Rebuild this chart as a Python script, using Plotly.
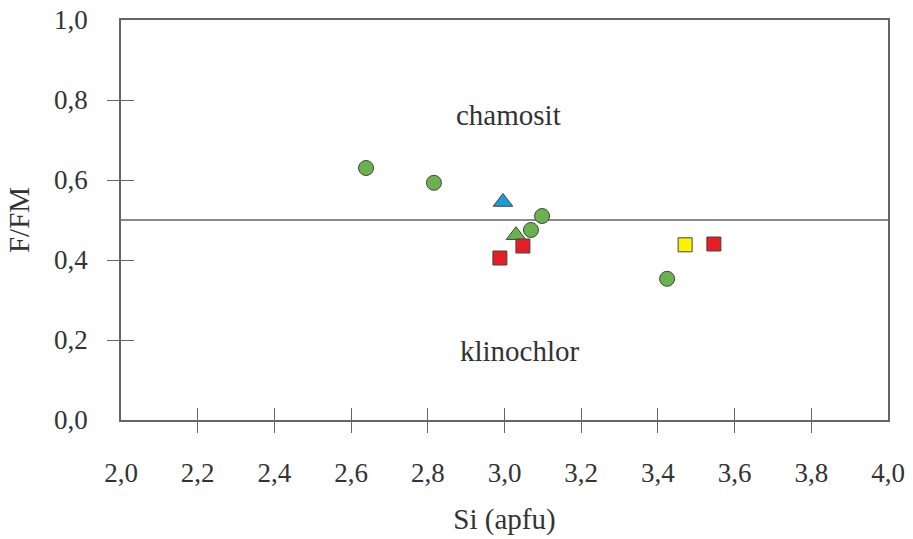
import plotly.graph_objects as go

# --- data ---
circle_x = [2.639, 2.816, 3.098, 3.069, 3.424]
circle_y = [0.630, 0.593, 0.510, 0.475, 0.353]
blue_tri_x = [2.996]
blue_tri_y = [0.545]
green_tri_x = [3.030]
green_tri_y = [0.462]
red_sq_x = [2.988, 3.048, 3.546]
red_sq_y = [0.405, 0.435, 0.440]
yellow_sq_x = [3.471]
yellow_sq_y = [0.438]

x_ticks = [2.0, 2.2, 2.4, 2.6, 2.8, 3.0, 3.2, 3.4, 3.6, 3.8, 4.0]
x_labels = ["2,0", "2,2", "2,4", "2,6", "2,8", "3,0", "3,2", "3,4", "3,6", "3,8", "4,0"]
y_ticks = [0.0, 0.2, 0.4, 0.6, 0.8, 1.0]
y_labels = ["0,0", "0,2", "0,4", "0,6", "0,8", "1,0"]
x_inner = x_ticks[1:-1]
y_inner = y_ticks[1:-1]

divider_y = 0.5
region_labels = [("chamosit", 3.01, 0.762), ("klinochlor", 3.04, 0.172)]

FONT = "Liberation Serif"
TXT = "#333333"
AX = "#666666"
EDGE = "#444444"

fig = go.Figure()

def add(x, y, symbol, color, size):
    fig.add_trace(go.Scatter(x=x, y=y, mode="markers",
                             marker=dict(symbol=symbol, color=color, size=size,
                                         line=dict(color=EDGE, width=1)),
                             showlegend=False))

add(circle_x, circle_y, "circle", "#6ab24e", 15)
add(blue_tri_x, blue_tri_y, "triangle-up", "#1b9bd7", 17)
add(green_tri_x, green_tri_y, "triangle-up", "#6ab24e", 17)
add(red_sq_x, red_sq_y, "square", "#e31e25", 14)
add(yellow_sq_x, yellow_sq_y, "square", "#fff200", 14)

fig.add_shape(type="line", xref="x domain", yref="y", x0=0, x1=1,
              y0=divider_y, y1=divider_y, line=dict(color="#8a8a8a", width=2), layer="below")

for t, x, y in region_labels:
    fig.add_annotation(x=x, y=y, text=t, showarrow=False,
                       font=dict(family=FONT, size=29, color=TXT))

common = dict(showgrid=False, zeroline=False)
fig.update_layout(
    width=913, height=539,
    margin=dict(l=121, r=25, t=20, b=119),
    paper_bgcolor="white", plot_bgcolor="white",
    font=dict(family=FONT, color=TXT, size=27),
    xaxis=dict(range=[2.0, 4.0], tickvals=x_ticks, ticktext=x_labels, ticks="",
               showline=True, linecolor=AX, linewidth=1.5, mirror=True, automargin=False,
               ticklabelstandoff=28, tickfont=dict(family=FONT, size=27, color=TXT),
               title=dict(text="Si (apfu)", font=dict(family=FONT, size=29, color=TXT), standoff=22),
               **common),
    yaxis=dict(range=[0.0, 1.0], tickvals=y_ticks, ticktext=y_labels, ticks="",
               showline=True, linecolor=AX, linewidth=1.5, mirror=True, automargin=False,
               ticklabelstandoff=26, tickfont=dict(family=FONT, size=27, color=TXT),
               title=dict(text="F/FM", font=dict(family=FONT, size=29, color=TXT), standoff=16),
               **common),
    xaxis2=dict(range=[2.0, 4.0], overlaying="x", side="bottom", anchor="y", automargin=False,
                tickvals=x_inner, ticks="outside", ticklen=12, tickcolor=AX, tickwidth=1.2,
                showticklabels=False, showline=False, **common),
    xaxis3=dict(range=[2.0, 4.0], overlaying="x", side="bottom", anchor="y", automargin=False,
                tickvals=x_inner, ticks="inside", ticklen=12, tickcolor=AX, tickwidth=1.2,
                showticklabels=False, showline=False, **common),
    yaxis2=dict(range=[0.0, 1.0], overlaying="y", side="left", anchor="x", automargin=False,
                tickvals=y_inner, ticks="outside", ticklen=13, tickcolor=AX, tickwidth=1.2,
                showticklabels=False, showline=False, **common),
    yaxis3=dict(range=[0.0, 1.0], overlaying="y", side="left", anchor="x", automargin=False,
                tickvals=y_inner, ticks="inside", ticklen=13, tickcolor=AX, tickwidth=1.2,
                showticklabels=False, showline=False, **common),
)

fig.add_trace(go.Scatter(x=[None], y=[None], xaxis="x2", yaxis="y2", showlegend=False))
fig.add_trace(go.Scatter(x=[None], y=[None], xaxis="x3", yaxis="y3", showlegend=False))

fig.write_html("out.html")
